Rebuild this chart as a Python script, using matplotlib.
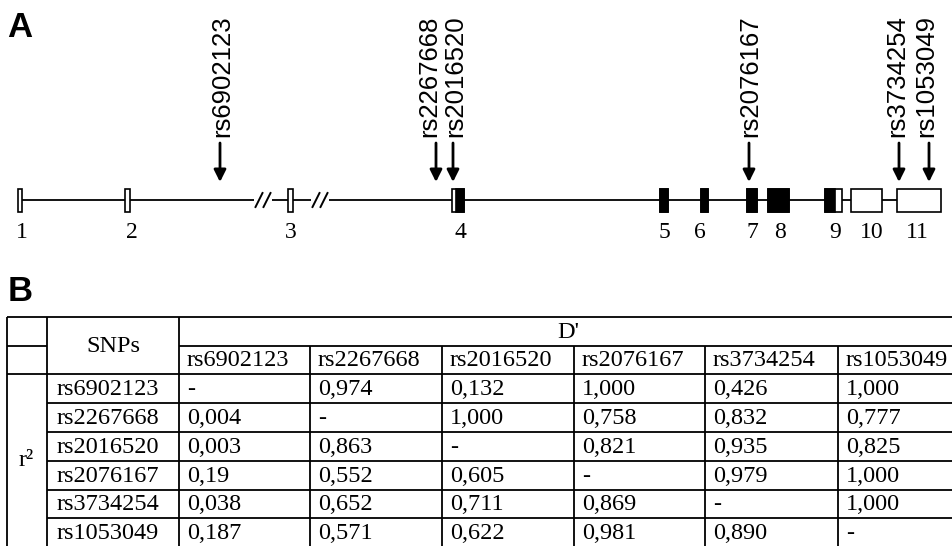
import matplotlib
matplotlib.use("Agg")
import matplotlib.pyplot as plt
from matplotlib.patches import Rectangle

# ---------------- data ----------------
exon_labels = ["1", "2", "3", "4", "5", "6", "7", "8", "9", "10", "11"]
exon_start = [18, 125, 288, 452, 660, 701, 747, 768, 825, 851, 897]
exon_end = [22, 130, 293, 464, 668, 708, 757, 789, 842, 882, 941]
# coding (black) part of each exon; None = untranslated (white)
coding_start = [None, None, None, 456, 660, 701, 747, 768, 825, None, None]
coding_end = [None, None, None, 464, 668, 708, 757, 789, 835, None, None]
label_x = [22, 132, 291, 460, 664, 700, 752, 780, 835, 872, 917]
break_x = [263, 320]

snp_names = ["rs6902123", "rs2267668", "rs2016520", "rs2076167", "rs3734254", "rs1053049"]
snp_x = [220, 436, 453, 749, 899, 929]
snp_text_x = [222, 429, 455, 750, 897, 926]

# LD table: upper triangle = D', lower triangle = r^2
ld_values = [
    ["-", "0,974", "0,132", "1,000", "0,426", "1,000"],
    ["0,004", "-", "1,000", "0,758", "0,832", "0,777"],
    ["0,003", "0,863", "-", "0,821", "0,935", "0,825"],
    ["0,19", "0,552", "0,605", "-", "0,979", "1,000"],
    ["0,038", "0,652", "0,711", "0,869", "-", "1,000"],
    ["0,187", "0,571", "0,622", "0,981", "0,890", "-"],
]

# ---------------- figure ----------------
W, H = 953, 546
fig = plt.figure(figsize=(W / 100, H / 100), dpi=100)
ax = fig.add_axes([0, 0, 1, 1])
ax.set_xlim(0, W)
ax.set_ylim(H, 0)
ax.axis("off")

SANS = "Liberation Sans"
SERIF = "Liberation Serif"

# panel letters
ax.text(7, 37, "A", fontfamily=SANS, fontweight="bold", fontsize=25, ha="left", va="baseline")
ax.text(8, 301, "B", fontfamily=SANS, fontweight="bold", fontsize=25, ha="left", va="baseline")

# ---- gene structure ----
gy = 200
ax.plot([exon_end[0], exon_start[-1]], [gy, gy], color="black", lw=1.3, zorder=1)
for bx in break_x:
    ax.add_patch(Rectangle((bx - 9, gy - 1.5), 18, 3, facecolor="white", edgecolor="none", zorder=2))
    for dx in (-4, 4):
        ax.plot([bx + dx - 3.5, bx + dx + 3.5], [gy + 7, gy - 7], color="black", lw=1.4, zorder=3)

eh_top, eh_bot = 189, 212
for i, lab in enumerate(exon_labels):
    s, e = exon_start[i], exon_end[i]
    ax.add_patch(Rectangle((s, eh_top), e - s, eh_bot - eh_top, facecolor="white",
                           edgecolor="black", lw=1.2, zorder=4))
    if coding_start[i] is not None:
        cs, ce = coding_start[i], coding_end[i]
        ax.add_patch(Rectangle((cs, eh_top), ce - cs, eh_bot - eh_top, facecolor="black",
                               edgecolor="black", lw=1.2, zorder=5))
    ax.text(label_x[i], 232, lab, fontfamily=SERIF, fontsize=17, ha="center", va="center")

# SNP arrows
for name, x, tx in zip(snp_names, snp_x, snp_text_x):
    ax.annotate("", xy=(x, 182), xytext=(x, 143),
                arrowprops=dict(arrowstyle="-|>", color="black", lw=2.0,
                                mutation_scale=18, shrinkA=0, shrinkB=0))
    ax.text(tx, 137, name, fontfamily=SANS, fontsize=18.5, rotation=90,
            ha="center", va="bottom")

# ---- LD table ----
col_x = [7, 47, 179, 310, 442, 574, 705, 838, 969]
row_y = [317, 345.5, 374, 403, 432, 461, 489.5, 518, 547]
lw = 1.3
kw = dict(color="black", lw=lw, solid_capstyle="butt")

ax.plot([col_x[0], col_x[-1]], [row_y[0], row_y[0]], **kw)
ax.plot([col_x[0], col_x[1]], [row_y[1], row_y[1]], **kw)
ax.plot([col_x[2], col_x[-1]], [row_y[1], row_y[1]], **kw)
ax.plot([col_x[0], col_x[-1]], [row_y[2], row_y[2]], **kw)
for y in row_y[3:]:
    ax.plot([col_x[1], col_x[-1]], [y, y], **kw)
for x in col_x[:3]:
    ax.plot([x, x], [row_y[0], row_y[-1]], **kw)
for x in col_x[3:-1]:
    ax.plot([x, x], [row_y[1], row_y[-1]], **kw)

tfs = 17.5
ax.text((col_x[1] + col_x[2]) / 2, (row_y[0] + row_y[2]) / 2 + 1, "SNPs", fontfamily=SERIF,
        fontsize=tfs, ha="center", va="center")
ax.text((col_x[2] + col_x[-1]) / 2 - 6, (row_y[0] + row_y[1]) / 2 + 1, "D'", fontfamily=SERIF,
        fontsize=tfs, ha="center", va="center")
ax.text(26, (row_y[2] + row_y[-1]) / 2, "r²", fontfamily=SERIF, fontsize=tfs,
        ha="center", va="center")

pad = 8
for j, name in enumerate(snp_names):
    ax.text(col_x[2 + j] + pad, (row_y[1] + row_y[2]) / 2 + 1, name, fontfamily=SERIF,
            fontsize=tfs, ha="left", va="center")
for i, name in enumerate(snp_names):
    yc = (row_y[2 + i] + row_y[3 + i]) / 2 + 1
    ax.text(col_x[1] + pad + 2, yc, name, fontfamily=SERIF, fontsize=tfs, ha="left", va="center")
    for j, v in enumerate(ld_values[i]):
        ax.text(col_x[2 + j] + pad, yc, v, fontfamily=SERIF, fontsize=tfs, ha="left", va="center")

fig.savefig("out.png", dpi=100)
